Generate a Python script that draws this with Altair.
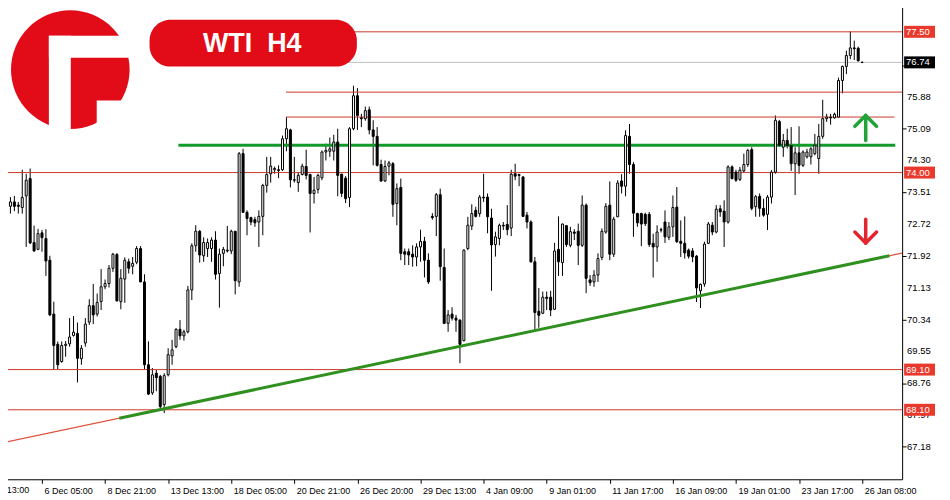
import altair as alt
import pandas as pd

# ---------------- data (WTI, H4 candles) ----------------
opens = [72.90, 73.16, 73.27, 73.19, 73.13, 73.42, 73.85, 72.26, 72.09, 72.50,
         72.36, 71.82, 70.48, 69.73, 69.30, 69.70, 69.74, 69.95, 70.00, 69.37,
         69.76, 70.28, 70.69, 70.48, 70.79, 71.16, 71.24, 71.62, 71.96, 70.79,
         71.35, 71.78, 71.67, 71.77, 72.11, 71.28, 69.22, 68.52, 69.01, 68.93,
         68.23, 68.97, 69.44, 69.67, 70.10, 69.94, 70.04, 71.08, 72.18, 72.54,
         71.93, 72.11, 72.11, 72.32, 71.49, 71.99, 72.05, 72.05, 72.54, 71.28,
         74.47, 73.01, 72.88, 72.83, 72.77, 72.91, 73.68, 73.97, 74.07, 74.07,
         74.07, 74.84, 75.06, 73.82, 73.75, 73.95, 74.15, 73.95, 73.48, 73.58,
         73.87, 74.51, 74.53, 74.53, 74.76, 73.96, 73.86, 73.38, 75.09, 75.91,
         75.36, 75.34, 75.56, 75.06, 74.90, 74.20, 73.79, 74.16, 74.22, 73.23,
         73.63, 72.03, 72.03, 71.97, 71.90, 72.15, 72.29, 71.82, 72.91, 72.91,
         73.45, 71.64, 70.25, 70.48, 70.38, 70.33, 69.82, 72.11, 72.67, 73.06,
         72.98, 73.39, 73.39, 72.87, 72.21, 72.36, 72.69, 72.71, 72.62, 73.97,
         73.95, 73.89, 72.94, 72.77, 71.78, 70.55, 70.50, 70.90, 70.90, 70.60,
         72.09, 71.76, 72.68, 72.19, 72.52, 72.54, 72.19, 73.19, 71.33, 71.28,
         71.45, 71.89, 72.52, 73.19, 71.97, 72.90, 73.79, 73.66, 74.90, 74.20,
         72.98, 72.98, 72.96, 72.96, 72.24, 72.15, 72.58, 72.77, 72.39, 72.65,
         73.14, 72.29, 72.24, 72.07, 72.05, 71.92, 71.06, 71.23, 72.24, 72.69,
         72.52, 73.10, 73.04, 72.77, 74.14, 74.01, 73.83, 74.04, 74.20, 74.57,
         73.15, 73.41, 73.11, 72.96, 73.39, 74.01, 75.27, 74.63, 74.80, 74.67,
         74.22, 74.49, 74.18, 74.39, 74.39, 74.47, 74.35, 74.90, 75.34, 75.38,
         75.36, 75.38, 76.29, 76.64, 76.91, 77.10, 77.09, 76.74]
highs = [74.67, 73.39, 73.42, 73.27, 74.07, 73.97, 74.10, 72.68, 72.60, 72.57,
         72.59, 71.93, 70.79, 69.80, 69.80, 69.81, 70.38, 70.43, 70.27, 69.71,
         70.38, 70.85, 71.23, 70.99, 71.60, 71.34, 71.70, 72.00, 72.00, 71.60,
         71.89, 71.86, 71.90, 72.17, 72.17, 71.47, 69.80, 69.14, 69.09, 68.97,
         69.01, 69.63, 69.84, 70.13, 70.33, 70.09, 71.18, 72.24, 72.69, 72.57,
         72.39, 72.36, 72.39, 72.54, 72.11, 72.15, 72.67, 72.58, 72.54, 74.51,
         74.59, 73.06, 72.90, 72.90, 73.06, 73.72, 74.39, 74.39, 74.15, 74.18,
         74.92, 75.38, 75.09, 74.39, 73.99, 74.22, 74.57, 73.97, 73.89, 73.97,
         74.55, 74.72, 74.87, 74.94, 75.09, 73.97, 73.91, 75.13, 76.16, 76.10,
         75.46, 75.64, 75.64, 75.30, 75.13, 74.32, 74.30, 74.29, 74.26, 73.73,
         73.85, 72.11, 72.11, 72.19, 72.24, 72.58, 72.40, 71.99, 72.99, 73.49,
         73.60, 72.11, 70.58, 70.65, 70.46, 70.35, 72.09, 72.90, 73.21, 73.15,
         73.44, 73.97, 73.48, 73.10, 72.53, 72.73, 72.77, 73.19, 74.07, 74.22,
         73.97, 73.91, 73.02, 72.81, 71.90, 71.13, 71.04, 71.04, 71.06, 72.25,
         72.91, 72.73, 72.69, 72.65, 72.59, 72.73, 73.43, 73.23, 71.45, 71.57,
         71.99, 72.61, 73.24, 73.78, 72.90, 73.81, 73.96, 75.05, 75.21, 74.26,
         73.00, 73.00, 73.00, 73.02, 72.48, 72.69, 72.63, 73.06, 72.77, 73.43,
         73.64, 72.81, 72.91, 72.11, 72.12, 71.95, 71.24, 72.28, 72.77, 72.77,
         73.19, 73.19, 73.31, 74.18, 74.18, 74.07, 74.14, 74.47, 74.59, 74.63,
         73.44, 73.48, 73.35, 73.44, 74.06, 75.42, 75.31, 74.96, 75.09, 75.13,
         74.63, 75.15, 74.55, 74.59, 74.63, 74.96, 75.21, 75.81, 75.46, 75.46,
         75.49, 76.36, 76.66, 77.03, 77.51, 77.28, 77.13, 76.76]
lows = [72.65, 72.98, 73.04, 72.98, 72.98, 72.15, 72.22, 72.03, 72.07, 72.03,
        71.43, 70.43, 69.09, 69.11, 69.27, 69.42, 69.67, 69.92, 68.78, 69.22,
        69.67, 70.21, 70.23, 70.42, 70.58, 71.10, 71.14, 71.53, 70.79, 70.60,
        70.76, 71.49, 71.47, 71.72, 71.28, 69.11, 68.47, 68.47, 68.56, 68.14,
        68.02, 68.93, 69.22, 69.63, 69.84, 69.82, 70.00, 70.83, 72.03, 71.76,
        71.78, 71.90, 71.78, 71.34, 70.64, 71.67, 72.01, 71.97, 70.97, 71.16,
        73.01, 72.44, 72.69, 72.65, 72.15, 72.44, 73.50, 73.75, 73.97, 73.86,
        74.04, 74.53, 73.63, 73.75, 73.52, 73.93, 73.83, 72.51, 73.23, 73.48,
        73.81, 74.30, 74.39, 74.30, 73.41, 73.39, 73.24, 73.14, 75.05, 75.06,
        75.13, 75.29, 74.95, 74.18, 74.15, 73.77, 73.77, 73.93, 72.90, 72.69,
        71.82, 71.70, 71.70, 71.66, 71.67, 71.78, 71.39, 71.23, 72.83, 72.42,
        71.31, 70.23, 70.04, 70.32, 70.04, 69.26, 69.80, 72.07, 72.57, 72.88,
        72.90, 73.27, 72.49, 71.06, 71.91, 72.19, 72.57, 72.44, 72.42, 73.81,
        73.66, 72.90, 72.61, 71.76, 70.09, 70.14, 70.48, 70.58, 70.43, 70.58,
        71.43, 71.43, 72.15, 72.14, 72.32, 71.70, 72.15, 71.00, 71.18, 71.16,
        71.28, 71.82, 72.48, 71.82, 71.90, 72.90, 73.48, 73.41, 73.97, 72.40,
        72.65, 72.17, 72.67, 72.15, 71.39, 71.78, 72.51, 72.25, 72.32, 72.40,
        72.25, 71.90, 71.86, 71.86, 71.77, 70.78, 70.63, 71.16, 72.22, 72.44,
        72.49, 72.90, 72.15, 72.73, 73.83, 73.77, 73.79, 73.99, 74.14, 73.06,
        72.90, 72.90, 72.90, 72.57, 73.23, 73.97, 74.64, 74.39, 74.60, 74.04,
        73.44, 73.97, 74.14, 74.35, 74.20, 74.43, 73.97, 74.84, 75.26, 75.19,
        75.34, 75.36, 75.97, 76.45, 76.82, 76.80, 76.76, 76.72]
closes = [73.16, 73.27, 73.16, 73.16, 73.38, 73.81, 72.25, 72.05, 72.48, 72.38,
          71.80, 70.46, 69.70, 69.22, 69.70, 69.73, 69.91, 70.03, 69.38, 69.63,
          70.23, 70.69, 70.46, 70.77, 71.16, 71.24, 71.62, 71.97, 70.81, 71.37,
          71.82, 71.62, 71.74, 72.11, 71.28, 69.22, 68.49, 68.97, 68.90, 68.18,
          68.95, 69.47, 69.59, 70.10, 69.94, 70.04, 71.08, 72.18, 72.54, 71.95,
          72.26, 72.26, 72.32, 71.47, 71.97, 72.09, 72.07, 72.54, 71.31, 74.47,
          73.01, 72.86, 72.77, 72.75, 72.91, 73.68, 73.95, 74.16, 74.10, 74.05,
          74.84, 75.09, 73.82, 73.81, 73.93, 74.16, 73.93, 73.48, 73.56, 73.93,
          74.51, 74.55, 74.59, 74.76, 73.93, 73.48, 73.35, 75.09, 75.91, 75.42,
          75.34, 75.54, 75.06, 74.90, 74.18, 73.79, 74.15, 74.24, 73.21, 73.60,
          71.99, 71.97, 71.95, 71.90, 72.15, 72.29, 71.82, 71.28, 72.88, 73.45,
          71.66, 70.25, 70.46, 70.38, 70.33, 69.73, 72.07, 72.69, 72.98, 72.91,
          73.39, 73.37, 72.90, 72.20, 72.40, 72.69, 72.67, 72.58, 73.96, 73.91,
          73.93, 72.91, 72.77, 71.78, 70.52, 70.45, 70.90, 70.87, 70.58, 72.05,
          71.78, 72.72, 72.21, 72.53, 72.49, 72.19, 73.19, 71.37, 71.26, 71.45,
          71.86, 72.54, 73.16, 71.97, 72.84, 73.74, 73.66, 74.92, 74.20, 72.99,
          72.75, 72.72, 72.73, 72.21, 72.15, 72.52, 72.57, 72.40, 72.65, 73.13,
          72.28, 72.24, 72.00, 71.92, 71.90, 71.13, 71.22, 72.22, 72.72, 72.52,
          73.09, 73.02, 72.77, 74.14, 73.85, 73.81, 74.06, 74.20, 74.55, 73.11,
          73.40, 73.11, 72.94, 73.39, 74.01, 75.30, 74.68, 74.80, 74.67, 74.22,
          74.49, 74.18, 74.51, 74.51, 74.59, 74.68, 74.90, 75.34, 75.38, 75.36,
          75.45, 76.29, 76.64, 76.91, 77.10, 77.08, 76.78, 76.74]

# time axis: bar index of each labelled bar and its label
x_tick_bars = [9, 25, 41, 57, 73, 89, 105, 121, 137, 153, 169, 185, 201, 217]
x_tick_labels = ["6 Dec 05:00", "8 Dec 21:00", "13 Dec 13:00", "18 Dec 05:00",
                 "20 Dec 21:00", "26 Dec 20:00", "29 Dec 13:00", "4 Jan 09:00",
                 "9 Jan 01:00", "11 Jan 17:00", "16 Jan 09:00", "19 Jan 01:00",
                 "23 Jan 17:00", "26 Jan 08:00"]
first_label_bar = -7
first_label = "1 Dec 13:00"

# price axis ticks
y_ticks = [67.18, 67.97, 68.76, 69.55, 70.34, 71.13, 71.92, 72.72, 73.51,
           74.30, 75.09, 75.88, 76.67, 77.46, 78.25]
y_tick_labels = ["67.18", "67.97", "68.76", "69.55", "70.34", "71.13", "71.92",
                 "72.72", "73.51", "74.30", "75.09", "75.88", "76.67", "77.46", "78.25"]

# horizontal levels (red), with the bar where each starts / ends
level_prices = [77.50, 76.00, 75.38, 74.00, 69.10, 68.10]
level_start = [70.9, 70.9, 70.9, -5, -5, -5]
level_end = [230, 230, 225.2, 230, 230, 230]
green_level = 74.68
green_start, green_end = 43.6, 225.4
bid_price = 76.74

# boxed price labels on the axis
box_texts = ["77.50", "76.74", "74.00", "69.10", "68.10"]
box_prices = [77.50, 76.74, 74.00, 69.10, 68.10]
box_colors = ["#e8392c", "#000000", "#e8392c", "#e8392c", "#e8392c"]

# rising trend line: two anchor points (bar, price)
trend_bars = [28.6, 223.9]
trend_prices = [67.89, 71.93]

# arrows (bar, tail price, tip price, head-base price)
arrow_bar = 217.9
up_arrow = [74.80, 75.42, 75.15]
down_arrow = [72.84, 72.25, 72.52]
arrow_half = 2.75

# ---------------- geometry ----------------
W, H = 905, 480
x_dom = [-0.375, 225.875]
y_dom = [66.372, 78.271]
xs = alt.Scale(domain=x_dom, nice=False, zero=False)
ys = alt.Scale(domain=y_dom, nice=False, zero=False)

RED_LINE = "#cc3a2a"
GREEN = "#129a2a"
TREND_GREEN = "#2f8f1f"
LOGO_RED = "#e20c18"
FONT = "Liberation Sans"

df = pd.DataFrame({"bar": list(range(len(opens))), "open": opens, "high": highs,
                   "low": lows, "close": closes})
df["body_lo"] = df[["open", "close"]].min(axis=1)
df["body_hi"] = df[["open", "close"]].max(axis=1)
df["dir"] = ["up" if c >= o else "down" for o, c in zip(opens, closes)]

label_expr = ("[" + ",".join("'%s'" % s for s in x_tick_labels) + "][indexof(["
              + ",".join(str(b) for b in x_tick_bars) + "], datum.value)]")

x_axis = alt.Axis(values=x_tick_bars, labelExpr=label_expr, labelAlign="left",
                  labelBaseline="top", labelPadding=3, labelOffset=2, tickSize=4,
                  labelFontSize=9, labelFont=FONT, labelColor="black",
                  tickColor="black", domainColor="black", grid=False, title=None,
                  labelOverlap=False, labelFlush=False, labelBound=False)
y_axis = alt.Axis(orient="right", values=y_ticks, labels=False, tickSize=4,
                  tickColor="black", domainColor="black", grid=False, title=None)


def X(f):
    return alt.X(f, scale=xs, title=None)


def Y(f):
    return alt.Y(f, scale=ys, title=None)


base = alt.Chart(df)

wicks = base.mark_rule(color="black", strokeWidth=1).encode(
    x=alt.X("bar:Q", scale=xs, axis=x_axis),
    y=alt.Y("low:Q", scale=ys, axis=y_axis),
    y2="high:Q",
)
bodies = base.mark_bar(size=2, stroke="black", strokeWidth=1).encode(
    x=X("bar:Q"),
    y=Y("body_lo:Q"),
    y2="body_hi:Q",
    fill=alt.Fill("dir:N", scale=alt.Scale(domain=["up", "down"], range=["white", "black"]), legend=None),
)

levels_df = pd.DataFrame({"price": level_prices, "s": level_start, "e": level_end})
levels = alt.Chart(levels_df).mark_rule(color=RED_LINE, strokeWidth=1, clip=True).encode(
    x=X("s:Q"), x2="e:Q", y=Y("price:Q"),
)
bid = alt.Chart(pd.DataFrame({"price": [bid_price], "s": [70.9], "e": [230]})).mark_rule(
    color="#c0c0c0", strokeWidth=1, clip=True).encode(
    x=X("s:Q"), x2="e:Q", y=Y("price:Q"),
)
green_h = alt.Chart(pd.DataFrame({"price": [green_level], "s": [green_start], "e": [green_end]})).mark_rule(
    color=GREEN, strokeWidth=3).encode(
    x=X("s:Q"), x2="e:Q", y=Y("price:Q"),
)

slope = (trend_prices[1] - trend_prices[0]) / (trend_bars[1] - trend_bars[0])
ext_bars = [-10, 240]
ext_prices = [trend_prices[0] + slope * (b - trend_bars[0]) for b in ext_bars]
trend_thin = alt.Chart(pd.DataFrame({"b1": [ext_bars[0]], "b2": [ext_bars[1]],
                                     "p1": [ext_prices[0]], "p2": [ext_prices[1]]})).mark_rule(
    color="#e0503a", strokeWidth=1.2, clip=True).encode(
    x=X("b1:Q"), x2="b2:Q", y=Y("p1:Q"), y2="p2:Q",
)
trend = alt.Chart(pd.DataFrame({"b1": [trend_bars[0]], "b2": [trend_bars[1]],
                                "p1": [trend_prices[0]], "p2": [trend_prices[1]]})).mark_rule(
    color=TREND_GREEN, strokeWidth=3).encode(
    x=X("b1:Q"), x2="b2:Q", y=Y("p1:Q"), y2="p2:Q",
)

arrow_rows = []
for arr, col in ((up_arrow, "#22a33a"), (down_arrow, "#e3262d")):
    tail, tip, hb = arr
    arrow_rows.append({"b1": arrow_bar, "b2": arrow_bar, "p1": tail, "p2": tip, "c": col})
    arrow_rows.append({"b1": arrow_bar - arrow_half, "b2": arrow_bar, "p1": hb, "p2": tip, "c": col})
    arrow_rows.append({"b1": arrow_bar + arrow_half, "b2": arrow_bar, "p1": hb, "p2": tip, "c": col})
arrows = alt.Chart(pd.DataFrame(arrow_rows)).mark_rule(strokeWidth=3.5, strokeCap="round").encode(
    x=X("b1:Q"), x2="b2:Q", y=Y("p1:Q"), y2="p2:Q",
    color=alt.Color("c:N", scale=None),
)

# price tick labels on the right axis
ytl = alt.Chart(pd.DataFrame({"p": y_ticks, "t": y_tick_labels})).mark_text(
    align="left", baseline="middle", fontSize=9.5, font=FONT, color="black").encode(
    x=alt.value(W + 5), y=Y("p:Q"), text="t:N",
)

# price boxes on the right axis
box_df = pd.DataFrame({"t": box_texts, "price": box_prices, "c": box_colors})
boxes = alt.Chart(box_df).mark_rule(strokeWidth=12).encode(
    x=alt.value(W + 2), x2=alt.value(W + 33),
    y=Y("price:Q"),
    color=alt.Color("c:N", scale=None),
)
box_text = alt.Chart(box_df).mark_text(align="left", baseline="middle", fontSize=9.5,
                                       font=FONT, color="white").encode(
    x=alt.value(W + 4),
    y=Y("price:Q"),
    text="t:N",
)

first_lbl = alt.Chart(pd.DataFrame({"b": [first_label_bar], "t": [first_label]})).mark_text(
    align="left", baseline="top", fontSize=9, font=FONT, color="black", dx=2, dy=7).encode(
    x=X("b:Q"), y=alt.value(H), text="t:N",
)

# logo and title badge
one = pd.DataFrame({"k": [0]})
logo_circle = alt.Chart(one).mark_point(shape="circle", filled=True, opacity=1,
                                        color=LOGO_RED, size=119 ** 2).encode(
    x=alt.value(70.5), y=alt.value(69))
logo_cut1 = alt.Chart(one).mark_rect(color="white").encode(
    x=alt.value(49), x2=alt.value(71), y=alt.value(35), y2=alt.value(132))
logo_cut2 = alt.Chart(one).mark_rect(color="white").encode(
    x=alt.value(49), x2=alt.value(134), y=alt.value(35), y2=alt.value(57))
logo_cut3 = alt.Chart(one).mark_rect(color="white").encode(
    x=alt.value(97), x2=alt.value(134), y=alt.value(100), y2=alt.value(132))
badge = alt.Chart(one).mark_rect(color=LOGO_RED, cornerRadius=21).encode(
    x=alt.value(150), x2=alt.value(358), y=alt.value(19), y2=alt.value(66))
badge_text = alt.Chart(pd.DataFrame({"t": ["WTI\u00a0\u00a0H4"]})).mark_text(
    fontSize=27, fontWeight="bold", font=FONT, color="white", align="center",
    baseline="middle").encode(x=alt.value(253), y=alt.value(43), text="t:N")

chart = alt.layer(
    wicks, levels, bid, trend_thin, trend, green_h, bodies, arrows,
    logo_circle, logo_cut1, logo_cut2, logo_cut3, badge, badge_text,
    ytl, boxes, box_text, first_lbl,
).properties(
    width=W, height=H,
    padding={"left": -8, "top": -8, "right": 40, "bottom": 19},
    autosize=alt.AutoSizeParams(type="none"),
    background="white",
).configure_view(stroke=None)

chart.save("out.html", embed_options={"renderer": "svg", "actions": False})
